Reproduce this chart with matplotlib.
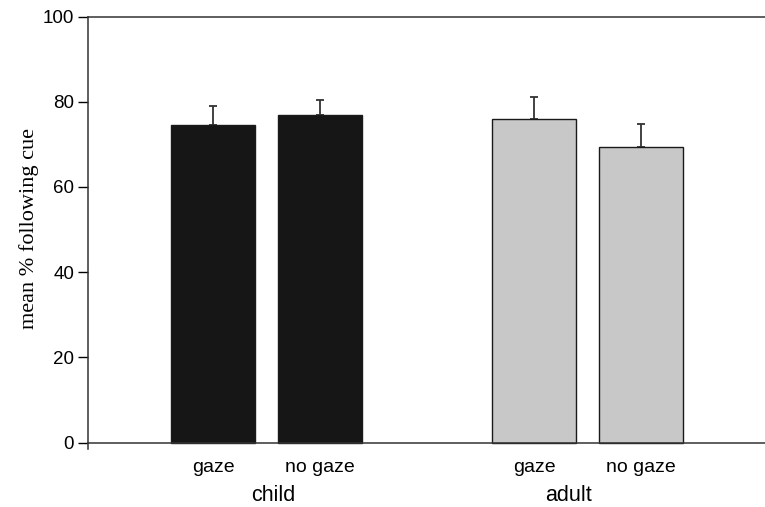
# Mean % following cue, child vs adult demonstrator, gaze / no gaze.

import numpy as np
import matplotlib
matplotlib.use('Agg')
import matplotlib.pyplot as plt

# data
conditions = ['gaze', 'no gaze', 'gaze', 'no gaze']
groups = ['child', 'adult']
means = [74.5, 76.8, 75.9, 69.4]
errors = [4.6, 3.7, 5.3, 5.3]
bar_pos = [0, 1, 3, 4]
group_label_pos = [0.56, 3.32]
bar_colors = ['#161616', '#161616', '#c8c8c8', '#c8c8c8']

plt.rcParams['font.family'] = ['Liberation Sans', 'DejaVu Sans']

fig = plt.figure(figsize=(7.65, 5.07), dpi=100)
ax = fig.add_axes([0.115, 0.1144, 0.885, 0.853])

ax.bar(bar_pos, means, width=0.785, color=bar_colors,
       edgecolor='#1a1a1a', linewidth=1.0, zorder=2)
ax.errorbar(bar_pos, means, yerr=[np.zeros(len(means)), errors],
            fmt='none', ecolor='#333333', elinewidth=1.3, capsize=3,
            capthick=1.3, zorder=1)

ax.set_xlim(-1.168, 5.159)
ax.set_ylim(-1.5, 100)
ax.set_yticks([0, 20, 40, 60, 80, 100])
ax.set_xticks(bar_pos)
ax.set_xticklabels(conditions)
ax.tick_params(axis='x', length=0, pad=12, labelsize=14)
ax.tick_params(axis='y', direction='out', length=7, width=1,
               labelsize=13.5, pad=3)

ax.spines['right'].set_visible(False)
ax.spines['bottom'].set_position(('data', 0))
for s in ['left', 'bottom', 'top']:
    ax.spines[s].set_linewidth(1.1)
    ax.spines[s].set_color('#333333')

for g, x in zip(groups, group_label_pos):
    ax.text(x, -12.5, g, ha='center', va='center', fontsize=15.5)

ax.set_ylabel('mean % following cue', family='Liberation Serif',
              fontsize=16)
ax.yaxis.set_label_coords(-0.073, 0.51)

fig.savefig('out.png', dpi=100)
